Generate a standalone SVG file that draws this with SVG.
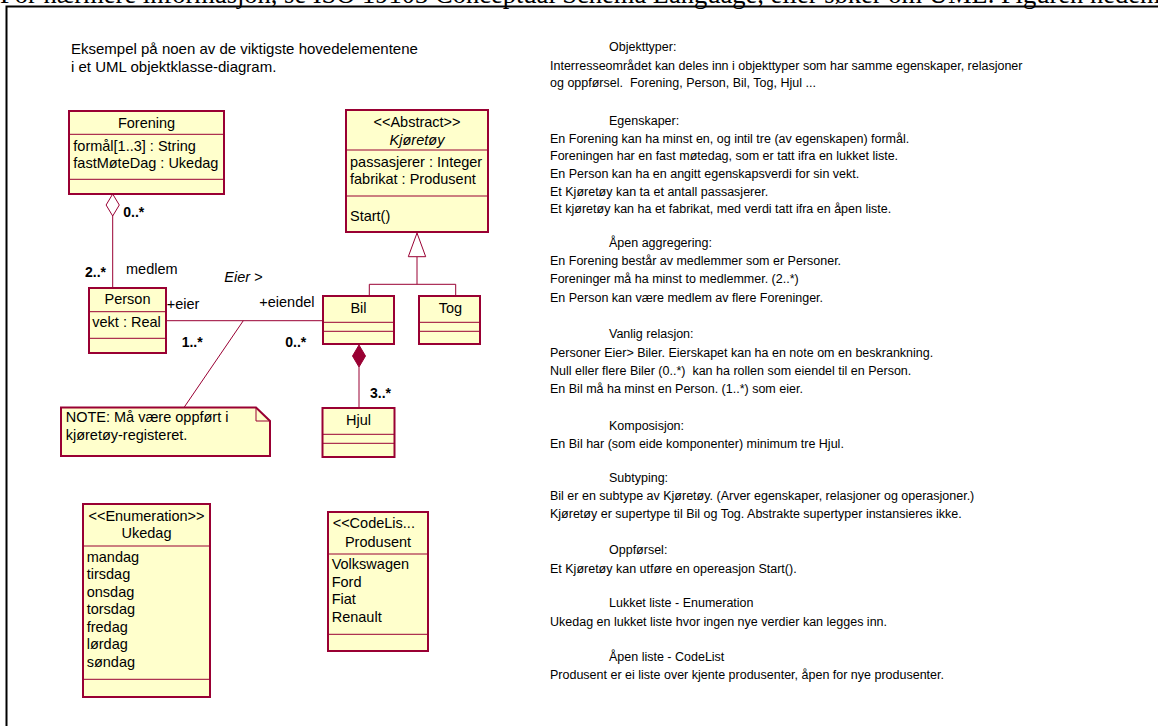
<svg xmlns="http://www.w3.org/2000/svg" width="1158" height="726" viewBox="0 0 1158 726">
  <style>
    .cls { fill: #FFFFCC; stroke: #990033; stroke-width: 2; }
    .sep { stroke: #990033; stroke-width: 1; fill: none; }
    .conn { stroke: #990033; stroke-width: 1; fill: none; }
    .t { font-family: "Liberation Sans", Arial, sans-serif; font-size: 14.5px; fill: #000; }
    .h { font-size: 15px; }
    .mid { text-anchor: middle; }
    .bold { font-weight: bold; font-size: 14px; }
    .it { font-style: italic; }
    .doc { font-family: "Liberation Sans", Arial, sans-serif; font-size: 12.5px; fill: #000; }
    .top { font-family: "Liberation Serif", "Times New Roman", serif; font-size: 26.5px; fill: #000; }
  </style>

  <rect width="1158" height="726" fill="#FFFFFF"/>

  <!-- page text line above the frame, partly cut off -->
  <text class="top" x="0" y="3">For nærmere informasjon, se ISO 19103 Conceptual Schema Language, eller søker om UML. Figuren nedenfor</text>

  <!-- frame -->
  <path d="M6.5,726 V6.5 H1158" fill="none" stroke="#000" stroke-width="2"/>

  <!-- heading -->
  <g id="heading">
    <text class="t h" x="71" y="54">Eksempel på noen av de viktigste hovedelementene</text>
    <text class="t h" x="71" y="71.7">i et UML objektklasse-diagram.</text>
  </g>

  <!-- connectors -->
  <g id="connectors">
    <!-- Forening <>— Person (aggregation) -->
    <path class="conn" d="M112.7,216 V288"/>
    <path d="M112.7,194 L119.3,205 L112.7,216 L106.1,205 Z" fill="#FFFFFF" stroke="#990033" stroke-width="1"/>
    <!-- Person — Bil (Eier) -->
    <path class="conn" d="M166,320.7 H323"/>
    <!-- note anchor -->
    <path class="conn" d="M243.3,320.7 L184,407.5"/>
    <!-- Bil <#>— Hjul (composition) -->
    <path class="conn" d="M359,367 V408"/>
    <path d="M359,345 L365.5,356 L359,367 L352.5,356 Z" fill="#990033" stroke="#990033" stroke-width="1"/>
    <!-- generalization Bil, Tog -> Kjøretøy -->
    <path class="conn" d="M417,256.7 V284.3 M369.3,284.3 H455.7 M369.3,284.3 V296 M455.7,284.3 V296"/>
    <path d="M417,233 L425.7,256.7 L408.3,256.7 Z" fill="#FFFFFF" stroke="#990033" stroke-width="1"/>

    <!-- end labels -->
    <text class="t bold" x="123.3" y="216.7">0..*</text>
    <text class="t bold" x="85" y="277.3">2..*</text>
    <text class="t" x="126" y="274.3">medlem</text>
    <text class="t it" x="224.3" y="282.3">Eier &gt;</text>
    <text class="t" x="166.7" y="309">+eier</text>
    <text class="t" x="259.3" y="307.3">+eiendel</text>
    <text class="t bold" x="181.7" y="346.7">1..*</text>
    <text class="t bold" x="285.3" y="346.7">0..*</text>
    <text class="t bold" x="370" y="398.3">3..*</text>
  </g>

  <!-- Forening -->
  <g id="forening">
    <rect class="cls" x="69" y="111" width="155" height="83"/>
    <path class="sep" d="M69,134.3 H224 M69,179.3 H224"/>
    <text class="t mid" x="146.5" y="128">Forening</text>
    <text class="t" x="73.3" y="150.7">formål[1..3] : String</text>
    <text class="t" x="73.3" y="168.3">fastMøteDag : Ukedag</text>
  </g>

  <!-- Kjøretøy (abstract) -->
  <g id="kjoretoy">
    <rect class="cls" x="346" y="110" width="142" height="122"/>
    <path class="sep" d="M346,150 H488 M346,196 H488"/>
    <text class="t mid" x="417" y="126.7">&lt;&lt;Abstract&gt;&gt;</text>
    <text class="t mid it" x="417" y="145">Kjøretøy</text>
    <text class="t" x="350" y="166.7">passasjerer : Integer</text>
    <text class="t" x="350" y="184">fabrikat : Produsent</text>
    <text class="t" x="350" y="220.7">Start()</text>
  </g>

  <!-- Person -->
  <g id="person">
    <rect class="cls" x="89" y="288" width="77" height="65"/>
    <path class="sep" d="M89,311.7 H166 M89,338.3 H166"/>
    <text class="t mid" x="127.5" y="304.3">Person</text>
    <text class="t" x="92.3" y="327.3">vekt : Real</text>
  </g>

  <!-- Bil -->
  <g id="bil">
    <rect class="cls" x="323" y="296" width="71" height="48"/>
    <path class="sep" d="M323,322.3 H394 M323,331.3 H394"/>
    <text class="t mid" x="358.5" y="312.7">Bil</text>
  </g>

  <!-- Tog -->
  <g id="tog">
    <rect class="cls" x="419" y="296" width="61" height="48"/>
    <path class="sep" d="M419,322.3 H480 M419,331.3 H480"/>
    <text class="t mid" x="450.5" y="312.7">Tog</text>
  </g>

  <!-- Hjul -->
  <g id="hjul">
    <rect class="cls" x="322.5" y="408" width="72" height="49"/>
    <path class="sep" d="M322.5,434.3 H394.5 M322.5,443.3 H394.5"/>
    <text class="t mid" x="358.5" y="425">Hjul</text>
  </g>

  <!-- note -->
  <g id="note">
    <path class="cls" d="M61,407.5 H256 L270,421 V456 H61 Z"/>
    <path class="sep" d="M256,407.5 V421 H270"/>
    <text class="t" x="65.7" y="422.3">NOTE: Må være oppført i</text>
    <text class="t" x="65.7" y="440">kjøretøy-registeret.</text>
  </g>

  <!-- Ukedag (enumeration) -->
  <g id="ukedag">
    <rect class="cls" x="83" y="504" width="127" height="193"/>
    <path class="sep" d="M83,546 H210 M83,679.3 H210"/>
    <text class="t mid" x="146.5" y="520.7">&lt;&lt;Enumeration&gt;&gt;</text>
    <text class="t mid" x="146.5" y="538.3">Ukedag</text>
    <text class="t" x="86.7" y="561.7">mandag</text>
    <text class="t" x="86.7" y="579.2">tirsdag</text>
    <text class="t" x="86.7" y="596.7">onsdag</text>
    <text class="t" x="86.7" y="614.2">torsdag</text>
    <text class="t" x="86.7" y="631.7">fredag</text>
    <text class="t" x="86.7" y="649.2">lørdag</text>
    <text class="t" x="86.7" y="666.7">søndag</text>
  </g>

  <!-- Produsent (code list) -->
  <g id="produsent">
    <rect class="cls" x="328" y="512" width="100" height="139"/>
    <path class="sep" d="M328,554 H428 M328,634.3 H428"/>
    <text class="t" x="332.7" y="528.3">&lt;&lt;CodeLis...</text>
    <text class="t mid" x="378" y="546.7">Produsent</text>
    <text class="t" x="331.7" y="569">Volkswagen</text>
    <text class="t" x="331.7" y="586.7">Ford</text>
    <text class="t" x="331.7" y="604.3">Fiat</text>
    <text class="t" x="331.7" y="622.3">Renault</text>
  </g>

  <!-- explanatory text -->
  <g id="explanation">
    <text class="doc" x="609" y="50.5">Objekttyper:</text>
    <text class="doc" x="550" y="69.5">Interresseområdet kan deles inn i objekttyper som har samme egenskaper, relasjoner</text>
    <text class="doc" x="550" y="87" xml:space="preserve">og oppførsel.  Forening, Person, Bil, Tog, Hjul ...</text>

    <text class="doc" x="609" y="124.5">Egenskaper:</text>
    <text class="doc" x="550" y="142.5">En Forening kan ha minst en, og intil tre (av egenskapen) formål.</text>
    <text class="doc" x="550" y="160.2">Foreningen har en fast møtedag, som er tatt ifra en lukket liste.</text>
    <text class="doc" x="550" y="177.8">En Person kan ha en angitt egenskapsverdi for sin vekt.</text>
    <text class="doc" x="550" y="195.6">Et Kjøretøy kan ta et antall passasjerer.</text>
    <text class="doc" x="550" y="213.3">Et kjøretøy kan ha et fabrikat, med verdi tatt ifra en åpen liste.</text>

    <text class="doc" x="609" y="246.7">Åpen aggregering:</text>
    <text class="doc" x="550" y="265">En Forening består av medlemmer som er Personer.</text>
    <text class="doc" x="550" y="283.3">Foreninger må ha minst to medlemmer. (2..*)</text>
    <text class="doc" x="550" y="301.7">En Person kan være medlem av flere Foreninger.</text>

    <text class="doc" x="609" y="338.3">Vanlig relasjon:</text>
    <text class="doc" x="550" y="357.2">Personer Eier&gt; Biler. Eierskapet kan ha en note om en beskrankning.</text>
    <text class="doc" x="550" y="375" xml:space="preserve">Null eller flere Biler (0..*)  kan ha rollen som eiendel til en Person.</text>
    <text class="doc" x="550" y="393.3">En Bil må ha minst en Person. (1..*) som eier.</text>

    <text class="doc" x="609" y="430">Komposisjon:</text>
    <text class="doc" x="550" y="448.3">En Bil har (som eide komponenter) minimum tre Hjul.</text>

    <text class="doc" x="609" y="481.7">Subtyping:</text>
    <text class="doc" x="550" y="499.5">Bil er en subtype av Kjøretøy. (Arver egenskaper, relasjoner og operasjoner.)</text>
    <text class="doc" x="550" y="517.7">Kjøretøy er supertype til Bil og Tog. Abstrakte supertyper instansieres ikke.</text>

    <text class="doc" x="609" y="554.3">Oppførsel:</text>
    <text class="doc" x="550" y="572.7">Et Kjøretøy kan utføre en opereasjon Start().</text>

    <text class="doc" x="609" y="606.7">Lukket liste - Enumeration</text>
    <text class="doc" x="550" y="625.7">Ukedag en lukket liste hvor ingen nye verdier kan legges inn.</text>

    <text class="doc" x="609" y="661">Åpen liste - CodeList</text>
    <text class="doc" x="550" y="679.3">Produsent er ei liste over kjente produsenter, åpen for nye produsenter.</text>
  </g>
</svg>
